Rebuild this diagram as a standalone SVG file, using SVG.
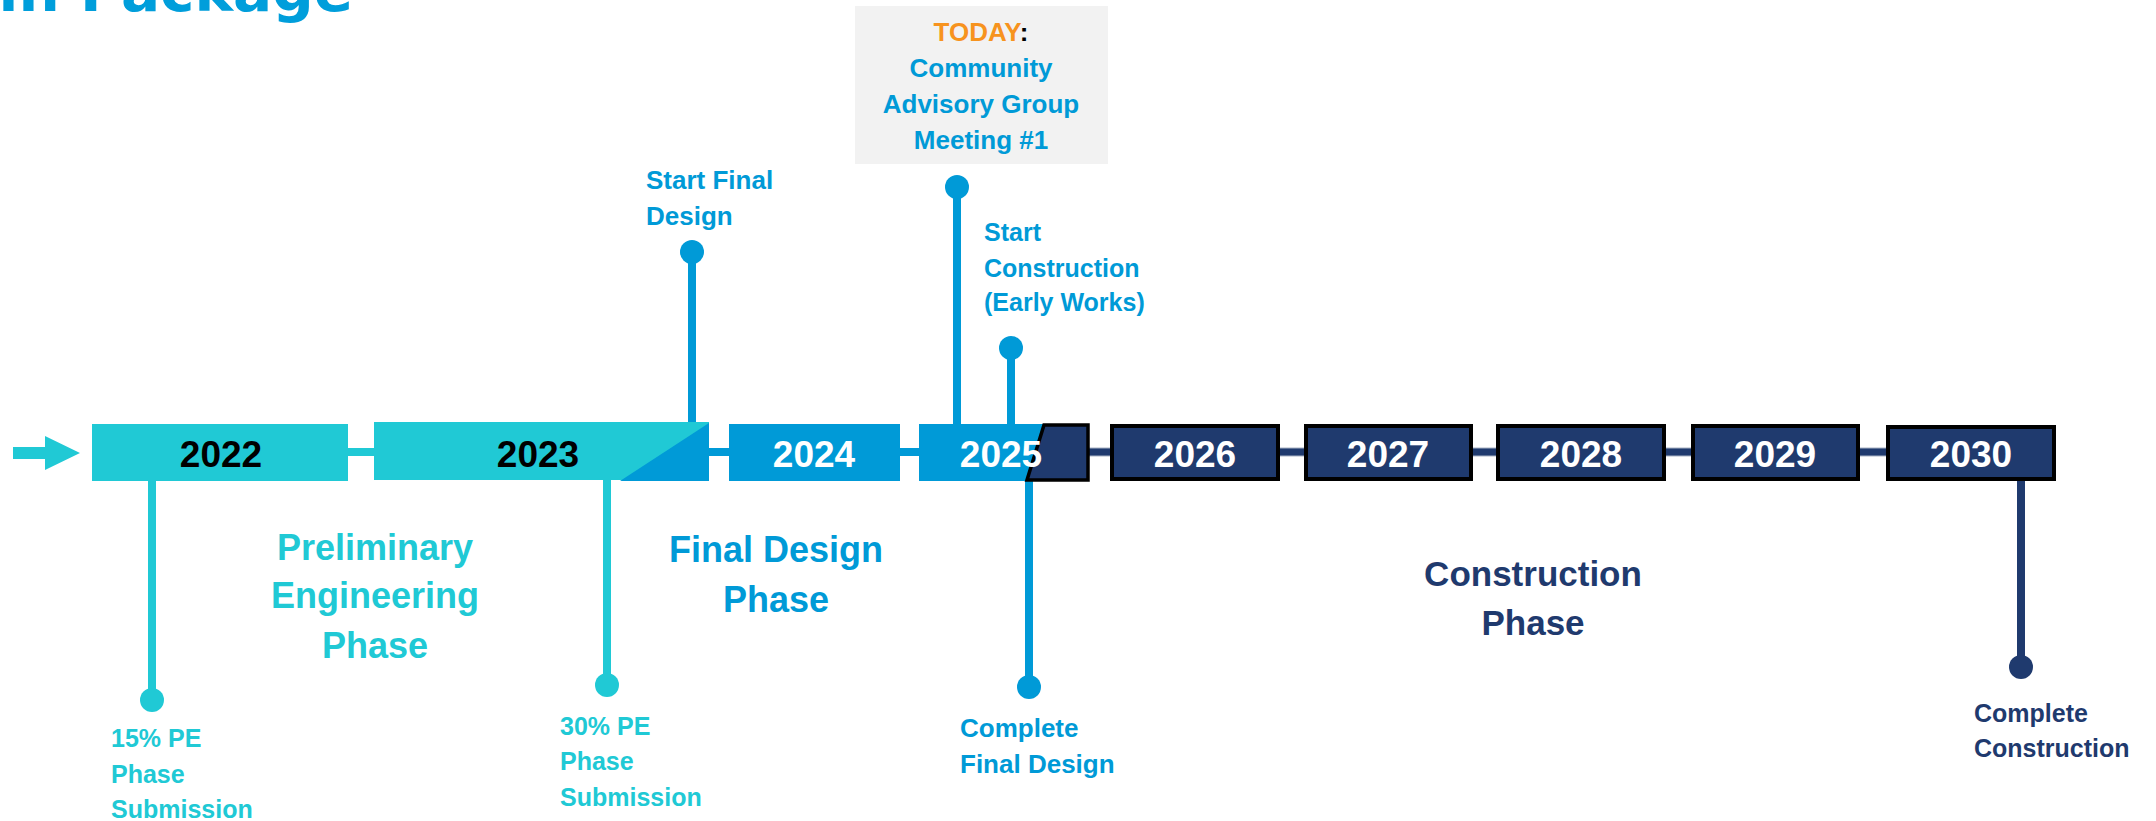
<svg xmlns="http://www.w3.org/2000/svg" width="2156" height="821" viewBox="0 0 2156 821">
<style>
text{font-family:"Liberation Sans",Arial,sans-serif;font-weight:bold}
.yr{font-size:37px;text-anchor:middle}
.w{fill:#FFFFFF}
.k{fill:#000000}
.teal{fill:#20C9D5}
.blue{fill:#009AD7}
.navy{fill:#1F3A6E}
.lbl{font-size:25px}
.ph{font-size:36px;text-anchor:middle}
.today{font-size:26px;text-anchor:middle}
.nbox{fill:#1F3A6E;stroke:#000000;stroke-width:4}
.stem-t{stroke:#20C9D5;stroke-width:8}
.stem-b{stroke:#009AD7;stroke-width:8}
.stem-n{stroke:#1F3A6E;stroke-width:8}
</style>
<rect width="2156" height="821" fill="#FFFFFF"/>
<text x="353" y="11" text-anchor="end" style="font-family:'DejaVu Sans',sans-serif;font-size:58px" fill="#009EDB">in Package</text>

<g id="connectors">
  <polygon points="13,447 45,447 45,436 80,453 45,470 45,459 13,459" fill="#20C9D5"/>
  <rect x="346" y="448" width="30" height="8" fill="#20C9D5"/>
  <rect x="707" y="448" width="23" height="8" fill="#009AD7"/>
  <rect x="898" y="448" width="23" height="8" fill="#009AD7"/>
  <rect x="1087" y="448" width="25" height="8" fill="#1F3A6E" stroke="#A8B2C4" stroke-width="1"/>
  <rect x="1278" y="448" width="28" height="8" fill="#1F3A6E" stroke="#A8B2C4" stroke-width="1"/>
  <rect x="1471" y="448" width="27" height="8" fill="#1F3A6E" stroke="#A8B2C4" stroke-width="1"/>
  <rect x="1664" y="448" width="29" height="8" fill="#1F3A6E" stroke="#A8B2C4" stroke-width="1"/>
  <rect x="1858" y="448" width="30" height="8" fill="#1F3A6E" stroke="#A8B2C4" stroke-width="1"/>
  <!-- milestone stems -->
  <line class="stem-t" x1="152" y1="480" x2="152" y2="700"/>
  <line class="stem-t" x1="607" y1="480" x2="607" y2="685"/>
  <line class="stem-b" x1="692" y1="252" x2="692" y2="425"/>
  <line class="stem-b" x1="957" y1="187" x2="957" y2="425"/>
  <line class="stem-b" x1="1011" y1="348" x2="1011" y2="425"/>
  <line class="stem-b" x1="1029" y1="480" x2="1029" y2="687"/>
  <line class="stem-n" x1="2021" y1="480" x2="2021" y2="667"/>
</g>

<g id="y2022">
  <rect x="92" y="424" width="256" height="57" fill="#20C9D5"/>
  <text class="yr k" x="221" y="467">2022</text>
</g>
<g id="y2023">
  <rect x="374" y="422" width="335" height="58" fill="#20C9D5"/>
  <polygon points="620,481 709,423 709,481" fill="#009AD7"/>
  <text class="yr k" x="538" y="467">2023</text>
</g>
<g id="y2024">
  <rect x="729" y="424" width="171" height="57" fill="#009AD7"/>
  <text class="yr w" x="814" y="467">2024</text>
</g>
<g id="y2025">
  <rect x="919" y="424" width="126" height="57" fill="#009AD7"/>
  <polygon points="1044,425 1088,425 1088,480 1027,480" fill="#1F3A6E" stroke="#000000" stroke-width="3.5" stroke-linejoin="miter"/>
  <text class="yr w" x="1001" y="467">2025</text>
</g>
<g id="y2026">
  <rect class="nbox" x="1112" y="426" width="166" height="53"/>
  <text class="yr w" x="1195" y="467">2026</text>
</g>
<g id="y2027">
  <rect class="nbox" x="1306" y="426" width="165" height="53"/>
  <text class="yr w" x="1388" y="467">2027</text>
</g>
<g id="y2028">
  <rect class="nbox" x="1498" y="426" width="166" height="53"/>
  <text class="yr w" x="1581" y="467">2028</text>
</g>
<g id="y2029">
  <rect class="nbox" x="1693" y="426" width="165" height="53"/>
  <text class="yr w" x="1775" y="467">2029</text>
</g>
<g id="y2030">
  <rect class="nbox" x="1888" y="427" width="166" height="52"/>
  <text class="yr w" x="1971" y="467">2030</text>
</g>

<g id="m-15pe">
  <circle cx="152" cy="700" r="12" fill="#20C9D5"/>
  <text class="lbl teal" x="111"><tspan x="111" y="747">15% PE</tspan><tspan x="111" y="783">Phase</tspan><tspan x="111" y="818">Submission</tspan></text>
</g>
<g id="m-30pe">
  <circle cx="607" cy="685" r="12" fill="#20C9D5"/>
  <text class="lbl teal" x="560"><tspan x="560" y="735">30% PE</tspan><tspan x="560" y="770">Phase</tspan><tspan x="560" y="806">Submission</tspan></text>
</g>
<g id="m-startfinal">
  <circle cx="692" cy="252" r="12" fill="#009AD7"/>
  <text class="lbl blue" style="font-size:26px"><tspan x="646" y="189">Start Final</tspan><tspan x="646" y="225">Design</tspan></text>
</g>
<g id="m-today">
  <rect x="855" y="6" width="253" height="158" fill="#F2F2F2"/>
  <circle cx="957" cy="187" r="12" fill="#009AD7"/>
  <text class="today" x="981" y="41"><tspan fill="#F7931E">TODAY</tspan><tspan fill="#000000">:</tspan></text>
  <text class="today blue"><tspan x="981" y="77">Community</tspan><tspan x="981" y="113">Advisory Group</tspan><tspan x="981" y="149">Meeting #1</tspan></text>
</g>
<g id="m-startconst">
  <circle cx="1011" cy="348" r="12" fill="#009AD7"/>
  <text class="lbl blue"><tspan x="984" y="241">Start</tspan><tspan x="984" y="277">Construction</tspan><tspan x="984" y="311">(Early Works)</tspan></text>
</g>
<g id="m-completefinal">
  <circle cx="1029" cy="687" r="12" fill="#009AD7"/>
  <text class="lbl blue" style="font-size:26px"><tspan x="960" y="737">Complete</tspan><tspan x="960" y="773">Final Design</tspan></text>
</g>
<g id="m-completeconst">
  <circle cx="2021" cy="667" r="12" fill="#1F3A6E"/>
  <text class="lbl navy"><tspan x="1974" y="722">Complete</tspan><tspan x="1974" y="757">Construction</tspan></text>
</g>

<g id="phase-pe">
  <text class="ph teal"><tspan x="375" y="560">Preliminary</tspan><tspan x="375" y="608">Engineering</tspan><tspan x="375" y="658">Phase</tspan></text>
</g>
<g id="phase-fd">
  <text class="ph blue"><tspan x="776" y="562">Final Design</tspan><tspan x="776" y="612">Phase</tspan></text>
</g>
<g id="phase-con">
  <text class="ph navy" style="font-size:35px"><tspan x="1533" y="586">Construction</tspan><tspan x="1533" y="635">Phase</tspan></text>
</g>
</svg>
